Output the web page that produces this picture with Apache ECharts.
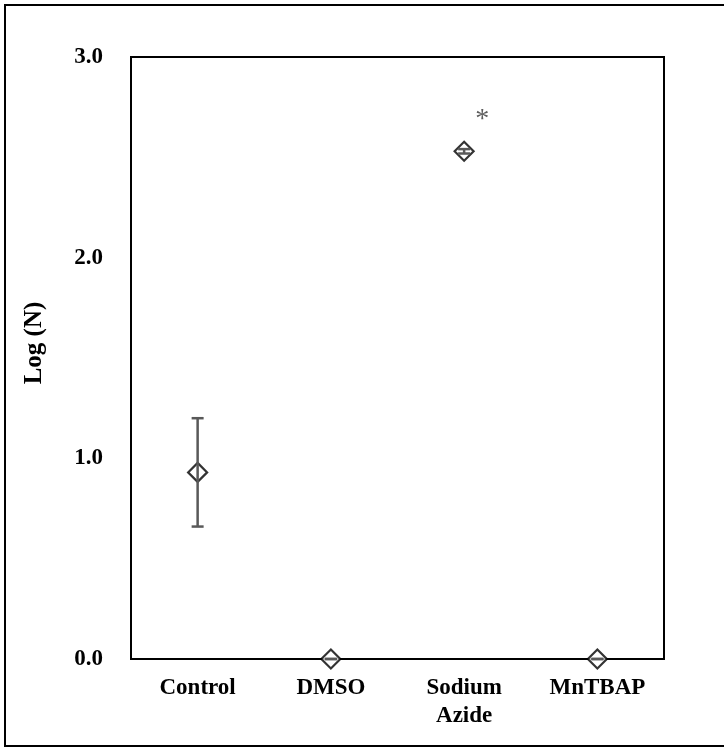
<!DOCTYPE html>
<html>
<head>
<meta charset="utf-8">
<script src="https://cdn.jsdelivr.net/npm/echarts@6/dist/echarts.min.js"></script>
<style>
  html, body { margin: 0; padding: 0; background: #fff; }
  #chart { width: 724px; height: 747px; }
</style>
</head>
<body>
<div id="chart"></div>
<script>
// Treatment groups along the x axis
var categories = ['Control', 'DMSO', 'Sodium\nAzide', 'MnTBAP'];
// Mean Log(N) per group
var logN = [0.93, 0, 2.53, 0];
// Error (±) for each mean
var errors = [0.27, 0, 0.011, 0];
// Significance markers per group
var marks = ['', '', '*', ''];
// Y axis ticks
var yTicks = [0, 1, 2, 3];

var FONT = '"Liberation Serif", "Times New Roman", serif';

var chart = echarts.init(document.getElementById('chart'), null, { renderer: 'canvas' });

var errorData = logN.map(function (v, i) { return [i, v - errors[i], v + errors[i]]; });

chart.setOption({
  animation: false,
  backgroundColor: '#fff',
  graphic: [{
    type: 'rect',
    shape: { x: 5, y: 5, width: 780, height: 741 },
    style: { fill: 'none', stroke: '#000', lineWidth: 2 },
    z: 100
  }],
  grid: {
    left: 131, top: 57, right: 60, bottom: 88,
    show: true, borderColor: '#000', borderWidth: 2, backgroundColor: 'transparent'
  },
  xAxis: {
    type: 'category',
    data: categories,
    boundaryGap: true,
    axisLine: { lineStyle: { color: '#000', width: 2 } },
    axisTick: { show: false },
    axisLabel: {
      margin: 15, color: '#000', fontFamily: FONT, fontWeight: 'bold',
      fontSize: 23, lineHeight: 28, interval: 0
    },
    splitLine: { show: false }
  },
  yAxis: {
    type: 'value',
    min: yTicks[0], max: yTicks[yTicks.length - 1], interval: 1,
    name: 'Log (N)',
    nameLocation: 'middle',
    nameRotate: 90,
    nameGap: 84,
    nameTextStyle: {
      color: '#000', fontFamily: FONT, fontWeight: 'bold', fontSize: 25,
      padding: [0, 0, 0, 30]
    },
    axisLine: { show: true, lineStyle: { color: '#000', width: 2 } },
    axisTick: { show: false },
    axisLabel: {
      margin: 28, color: '#000', fontFamily: FONT, fontWeight: 'bold', fontSize: 23,
      formatter: function (v) { return v.toFixed(1); }
    },
    splitLine: { show: false }
  },
  series: [{
    type: 'scatter',
    data: logN.map(function (v, i) { return [i, v]; }),
    symbol: 'diamond',
    symbolSize: 19,
    clip: false,
    itemStyle: { color: '#fff', borderColor: '#000', borderWidth: 2.2 },
    label: {
      show: true,
      position: 'top',
      offset: [18, -2],
      formatter: function (p) { return marks[p.dataIndex]; },
      color: '#333', fontFamily: FONT, fontSize: 28
    },
    z: 3
  }, {
    type: 'custom',
    data: errorData,
    clip: false,
    z: 4,
    renderItem: function (params, api) {
      var x = api.value(0);
      var lo = api.coord([x, api.value(1)]);
      var hi = api.coord([x, api.value(2)]);
      var cap = 6;
      var style = { stroke: '#595959', lineWidth: 2.5 };
      return {
        type: 'group',
        children: [
          { type: 'line', shape: { x1: lo[0], y1: lo[1], x2: hi[0], y2: hi[1] }, style: style },
          { type: 'line', shape: { x1: lo[0] - cap, y1: lo[1], x2: lo[0] + cap, y2: lo[1] }, style: style },
          { type: 'line', shape: { x1: hi[0] - cap, y1: hi[1], x2: hi[0] + cap, y2: hi[1] }, style: style }
        ]
      };
    }
  }]
});
</script>
</body>
</html>
